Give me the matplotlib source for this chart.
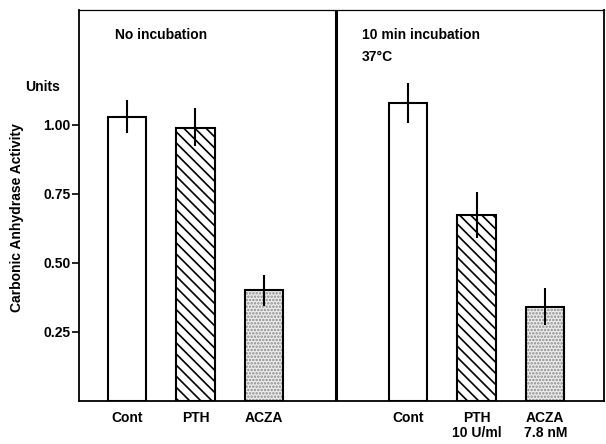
import matplotlib
matplotlib.use("Agg")
import matplotlib.pyplot as plt

plt.rcParams['font.family'] = ['Liberation Sans Narrow', 'Liberation Sans', 'DejaVu Sans']
plt.rcParams['hatch.linewidth'] = 1.2

groups = ["No incubation", "10 min incubation\n37°C"]
categories = ["Cont", "PTH", "ACZA", "Cont", "PTH\n10 U/ml", "ACZA\n7.8 nM"]
values = [1.03, 0.99, 0.40, 1.08, 0.675, 0.34]
err_low = [0.97, 0.925, 0.345, 1.005, 0.59, 0.275]
err_high = [1.09, 1.06, 0.455, 1.15, 0.755, 0.41]
yticks = [0.25, 0.50, 0.75, 1.00]
ytick_labels = ["0.25", "0.50", "0.75", "1.00"]

positions = [0.7, 1.7, 2.7, 4.8, 5.8, 6.8]
styles = ['plain', 'hatch', 'dots', 'plain', 'hatch', 'dots']

fig = plt.figure(figsize=(6.06, 4.44), dpi=100)
ax = fig.add_axes([0.130, 0.097, 0.867, 0.880])

for x, v, st in zip(positions, values, styles):
    if st == 'dots':
        ax.bar(x, v, width=0.56, color='#ededed', edgecolor='#8a8a8a', linewidth=0,
               hatch='.....', zorder=2)
        ax.bar(x, v, width=0.56, color='none', edgecolor='black', linewidth=1.5, zorder=2.5)
    elif st == 'hatch':
        ax.bar(x, v, width=0.56, color='white', edgecolor='black', linewidth=1.5,
               hatch='\\\\\\', zorder=2)
    else:
        ax.bar(x, v, width=0.56, color='white', edgecolor='black', linewidth=1.5, zorder=2)
for x, lo, hi in zip(positions, err_low, err_high):
    ax.plot([x, x], [lo, hi], color='black', linewidth=1.5, zorder=3, solid_capstyle='butt')

ax.axvline(3.75, color='black', linewidth=2.2, zorder=4)

ax.set_xlim(0, 7.66)
ax.set_ylim(0, 1.415)
ax.set_yticks(yticks)
ax.set_yticklabels(ytick_labels, fontsize=10, fontweight='bold')
ax.tick_params(axis='y', direction='out', length=5, width=1.2, pad=1)
ax.set_xticks(positions)
ax.set_xticklabels(categories, fontsize=10, fontweight='bold', linespacing=1.1)
ax.tick_params(axis='x', length=0, pad=7)
for s in ax.spines.values():
    s.set_linewidth(1.3)
ax.spines['top'].set_linewidth(0.9)

ax.text(0.53, 1.325, groups[0], fontsize=10, fontweight='bold', va='center', ha='left')
ax.text(4.13, 1.35, groups[1], fontsize=10, fontweight='bold', va='top', ha='left',
        linespacing=1.75)

fig.text(25/606, 1 - 87/444, "Units", fontsize=10, fontweight='bold', va='center', ha='left')
fig.text(17/606, 1 - 218/444, "Carbonic Anhydrase Activity", fontsize=10, fontweight='bold',
         rotation=90, va='center', ha='center')

fig.savefig("out.png", dpi=100)
